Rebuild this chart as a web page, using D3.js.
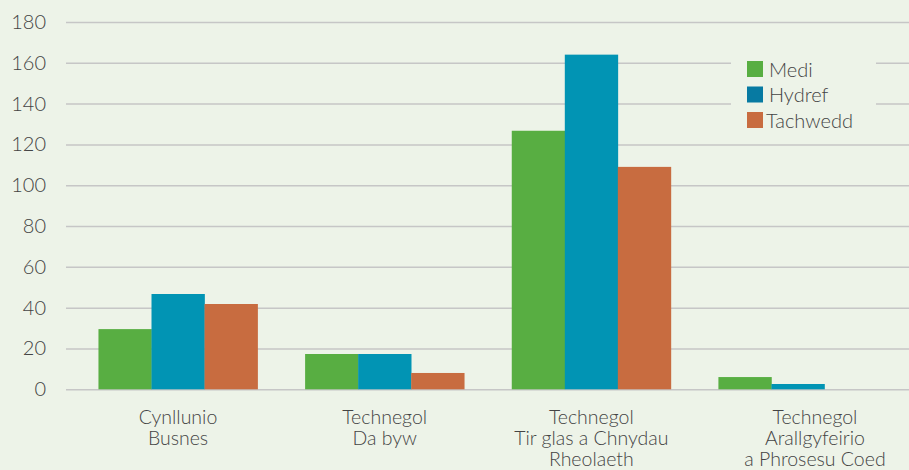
<!DOCTYPE html>
<html>
<head>
<meta charset="utf-8">
<script src="https://cdn.jsdelivr.net/npm/d3@7"></script>
<style>
html,body{margin:0;padding:0;background:#edf3e8;}
svg{display:block;}
text{font-family:Lato,"Open Sans",sans-serif;fill:#444;font-weight:300;}
</style>
</head>
<body>
<svg id="chart" width="909" height="470"></svg>
<script>
const categories = [
  ["Cynllunio","Busnes"],
  ["Technegol","Da byw"],
  ["Technegol","Tir glas a Chnydau","Rheolaeth"],
  ["Technegol","Arallgyfeirio","a Phrosesu Coed"]
];
const seriesNames = ["Medi","Hydref","Tachwedd"];
const medi = [29.5, 17.3, 126.7, 6];
const hydref = [46.7, 17.3, 164, 2.6];
const tachwedd = [41.8, 8, 109, 0];
const yTicks = [0,20,40,60,80,100,120,140,160,180];

const colors = ["#58ae42","#0194b4","#c86c40"];
const legendColors = ["#58ae42","#077aa2","#c86c40"];
const seriesValues = [medi, hydref, tachwedd];

const svg = d3.select("#chart");
const W = 909, H = 470;
svg.append("rect").attr("width",W).attr("height",H).attr("fill","#edf3e8");

const y = d3.scaleLinear().domain([0,180]).range([389.3,22]);
const x0 = d3.scaleBand().domain(d3.range(categories.length)).range([74.7,901.3]).paddingInner(0.23).paddingOuter(0.115);
const x1 = d3.scaleBand().domain(d3.range(seriesNames.length)).range([0,x0.bandwidth()]);

const yAxis = d3.axisLeft(y).tickValues(yTicks).tickSize(-(W-66)).tickPadding(20).tickFormat(d3.format("d"));
const gy = svg.append("g").attr("transform","translate(66,0)").call(yAxis);
gy.select(".domain").remove();
gy.selectAll(".tick line").attr("stroke","#c6c6c6").attr("stroke-width",1.5);
gy.selectAll(".tick text").attr("x",-20).attr("font-size",20).attr("fill","#444")
  .style("font-family","Lato,'Open Sans',sans-serif").style("font-weight",300);

const groups = svg.append("g").selectAll("g").data(categories).join("g")
  .attr("transform",(d,i)=>`translate(${x0(i)},0)`);
groups.selectAll("rect").data((d,i)=>seriesValues.map((s,j)=>({j, v:s[i]}))).join("rect")
  .attr("x",d=>x1(d.j)).attr("width",x1.bandwidth()+0.3)
  .attr("y",d=>y(d.v)).attr("height",d=>y(0)-y(d.v))
  .attr("fill",d=>colors[d.j]);

const labelShift = [0,0,0,17];
const lab = svg.append("g").selectAll("text").data(categories).join("text")
  .attr("text-anchor","middle").attr("font-size",19.5)
  .attr("x",(d,i)=>x0(i)+x0.bandwidth()/2+labelShift[i])
  .attr("y",424);
lab.selectAll("tspan").data(d=>d).join("tspan")
  .attr("x",function(){return d3.select(this.parentNode).attr("x");})
  .attr("dy",(d,k)=>k===0?0:21)
  .text(d=>d);

const lg = svg.append("g");
lg.append("rect").attr("x",731).attr("y",46).attr("width",145).attr("height",92).attr("fill","#edf3e8");
seriesNames.forEach((n,i)=>{
  const yy = 61 + i*25.5;
  lg.append("rect").attr("x",747).attr("y",yy).attr("width",16).attr("height",16).attr("fill",legendColors[i]);
  lg.append("text").attr("x",i===2?766:769).attr("y",yy+15.5).attr("font-size",20).text(n);
});
</script>
</body>
</html>
